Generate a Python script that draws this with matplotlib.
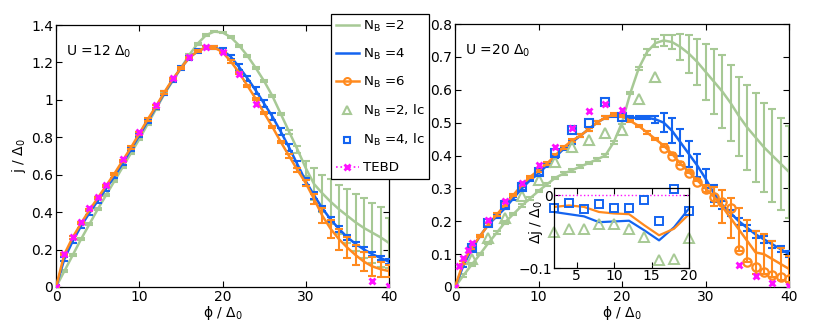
import numpy as np
import matplotlib
matplotlib.use("Agg")
import matplotlib.pyplot as plt
from matplotlib.lines import Line2D
from matplotlib.ticker import FuncFormatter

plt.rcParams['font.family'] = ['DejaVu Sans']
plt.rcParams['font.size'] = 10

# ---------------- data ----------------
phi = list(range(0, 41))

# U = 12 Delta_0
left_nb2 = [0, 0.085, 0.17, 0.255, 0.335, 0.415, 0.49, 0.565, 0.64, 0.715, 0.79, 0.87, 0.95, 1.03, 1.10,
            1.17, 1.24, 1.30, 1.345, 1.365, 1.36, 1.335, 1.29, 1.235, 1.17, 1.10, 1.02, 0.925, 0.83, 0.735,
            0.635, 0.55, 0.50, 0.455, 0.415, 0.38, 0.345, 0.315, 0.29, 0.265, 0.235]
left_nb2_err = [0.005] * 28 + [0.01, 0.02, 0.04, 0.085, 0.10, 0.12, 0.13, 0.145, 0.15, 0.16, 0.16, 0.16, 0.135]
left_nb4 = [0, 0.15, 0.245, 0.325, 0.395, 0.46, 0.525, 0.59, 0.66, 0.735, 0.81, 0.885, 0.96, 1.035, 1.105,
            1.17, 1.225, 1.26, 1.28, 1.28, 1.265, 1.23, 1.175, 1.115, 1.05, 0.98, 0.91, 0.83, 0.745, 0.655,
            0.565, 0.49, 0.42, 0.36, 0.31, 0.265, 0.23, 0.2, 0.175, 0.155, 0.135]
left_nb4_err = [0.01] * 20 + [0.01, 0.012, 0.015, 0.015, 0.018, 0.02, 0.02, 0.02, 0.02, 0.02,
                              0.018, 0.018, 0.015, 0.015, 0.015, 0.012, 0.012, 0.012, 0.012, 0.012, 0.012]
left_nb6 = [0, 0.175, 0.265, 0.34, 0.41, 0.475, 0.54, 0.605, 0.675, 0.745, 0.82, 0.895, 0.965, 1.04, 1.11,
            1.17, 1.225, 1.26, 1.28, 1.28, 1.255, 1.205, 1.145, 1.075, 1.005, 0.93, 0.855, 0.775, 0.70, 0.625,
            0.555, 0.47, 0.38, 0.31, 0.255, 0.21, 0.17, 0.135, 0.11, 0.095, 0.085]
left_nb6_err = [0.006] * 28 + [0.01, 0.012, 0.015, 0.025, 0.04, 0.05, 0.055, 0.055, 0.053, 0.05, 0.05, 0.04, 0.03]
left_tebd_x = [0, 1, 2, 3, 4, 5, 6, 8, 10, 12, 14, 16, 18, 20, 22, 24, 38, 40]
left_tebd = [0, 0.176, 0.269, 0.349, 0.42, 0.483, 0.545, 0.684, 0.828, 0.974, 1.115, 1.229, 1.284, 1.254,
             1.136, 0.978, 0.03, 0.007]

# U = 20 Delta_0
right_nb2 = [0, 0.035, 0.068, 0.10, 0.134, 0.165, 0.197, 0.222, 0.247, 0.27, 0.292, 0.312, 0.332, 0.345, 0.355,
             0.366, 0.377, 0.388, 0.40, 0.44, 0.50, 0.59, 0.665, 0.715, 0.742, 0.75, 0.745, 0.73, 0.71, 0.685,
             0.655, 0.625, 0.595, 0.56, 0.52, 0.485, 0.455, 0.425, 0.40, 0.375, 0.35]
right_nb2_err = [0.004] * 23 + [0.008, 0.012, 0.016, 0.022, 0.04, 0.058, 0.07, 0.085, 0.10, 0.11, 0.115,
                                0.12, 0.13, 0.135, 0.135, 0.14, 0.14, 0.14]
right_nb4 = [0, 0.065, 0.115, 0.155, 0.19, 0.215, 0.24, 0.27, 0.30, 0.325, 0.345, 0.37, 0.395, 0.42, 0.44,
             0.46, 0.48, 0.50, 0.515, 0.52, 0.52, 0.515, 0.515, 0.515, 0.51, 0.50, 0.475, 0.44, 0.405, 0.37,
             0.33, 0.285, 0.25, 0.225, 0.20, 0.18, 0.16, 0.145, 0.13, 0.115, 0.10]
right_nb4_err = [0.004] * 22 + [0.005, 0.005, 0.01, 0.03, 0.038, 0.04, 0.04, 0.035, 0.03, 0.025,
                                0.012, 0.01, 0.01, 0.01, 0.01, 0.01, 0.01, 0.01, 0.01]
right_nb6 = [0, 0.075, 0.12, 0.155, 0.19, 0.22, 0.25, 0.28, 0.31, 0.335, 0.355, 0.375, 0.40, 0.425, 0.445,
             0.46, 0.48, 0.50, 0.515, 0.525, 0.52, 0.505, 0.49, 0.47, 0.45, 0.43, 0.405, 0.375, 0.35, 0.325,
             0.30, 0.275, 0.245, 0.21, 0.175, 0.14, 0.105, 0.10, 0.085, 0.07, 0.055]
right_nb6_err = [0.004] * 30 + [0.01, 0.03, 0.05, 0.06, 0.065, 0.065, 0.065, 0.06, 0.055, 0.05, 0.04]
right_nb6_pts_x = list(range(25, 41))
right_nb6_pts = [0.424, 0.398, 0.371, 0.346, 0.320, 0.297, 0.275, 0.26, 0.239, 0.113, 0.077, 0.060,
                 0.047, 0.036, 0.029, 0.023]
right_lc_x = [2, 4, 6, 8, 10, 12, 14, 16, 18, 20, 22, 24]
right_nb2_lc = [0.085, 0.15, 0.21, 0.277, 0.327, 0.381, 0.427, 0.447, 0.469, 0.478, 0.572, 0.639]
right_nb4_lc = [0.118, 0.196, 0.248, 0.303, 0.351, 0.409, 0.478, 0.50, 0.564, 0.516, None, None]
right_tebd_x = [0, 0.5, 1, 1.5, 2, 4, 6, 8, 10, 12, 14, 16, 18, 20, 34, 36, 38, 40]
right_tebd = [0, 0.064, 0.087, 0.113, 0.133, 0.203, 0.262, 0.315, 0.37, 0.425, 0.483, 0.535, 0.557, 0.538,
              0.068, 0.034, 0.012, 0.003]

# inset: Delta j / Delta_0
inset_x = [2, 4, 6, 8, 10, 12, 14, 16, 18, 20]
inset_nb4 = [-0.023, -0.026, -0.029, -0.037, -0.036, -0.035, -0.048, -0.062, -0.044, -0.018]
inset_nb6 = [-0.016, -0.014, -0.016, -0.023, -0.025, -0.026, -0.041, -0.055, -0.046, -0.026]
inset_nb4_lc = [-0.018, -0.010, -0.019, -0.012, -0.018, -0.018, -0.007, -0.036, 0.008, -0.022]
inset_nb2_lc = [-0.050, -0.047, -0.046, -0.039, -0.040, -0.046, -0.057, -0.089, -0.087, -0.059]
inset_tebd = [0, 0]
inset_tebd_x = [2, 20]

GREEN = '#a7c995'
BLUE = '#1464f0'
ORANGE = '#ff8a1e'
MAGENTA = '#ff10ff'

fmt = FuncFormatter(lambda v, p: ('%g' % round(v, 6)).replace('-', '\u2212'))


def style(ax):
    ax.tick_params(direction='in', top=True, right=True, length=4, labelsize=10, pad=2)
    for s in ax.spines.values():
        s.set_linewidth(0.9)
    ax.xaxis.set_major_formatter(fmt)
    ax.yaxis.set_major_formatter(fmt)


def main_panel(ax, nb2, e2, nb4, e4, nb6, e6, tebd_x, tebd):
    ax.errorbar(phi, nb2, yerr=e2, color=GREEN, lw=1.8, capsize=3, elinewidth=1.5, capthick=1.5, zorder=2)
    ax.errorbar(phi, nb4, yerr=e4, color=BLUE, lw=1.8, capsize=3, elinewidth=1.5, capthick=1.5, zorder=3)
    ax.errorbar(phi, nb6, yerr=e6, color=ORANGE, lw=1.8, capsize=3, elinewidth=1.5, capthick=1.5, zorder=4)
    ax.plot(tebd_x, tebd, linestyle='none', marker='x', color=MAGENTA, ms=4.5, mew=2, zorder=6)
    ax.set_xlim(0, 40)
    ax.set_xticks([0, 10, 20, 30, 40])
    ax.set_xlabel('ϕ / Δ$_0$', labelpad=0)


fig = plt.figure(figsize=(8.3, 3.24), dpi=100)

axL = fig.add_axes([0.0675, 0.1142, 0.4012, 0.8086])
main_panel(axL, left_nb2, left_nb2_err, left_nb4, left_nb4_err, left_nb6, left_nb6_err,
           left_tebd_x, left_tebd)
axL.set_ylim(0, 1.4)
axL.set_yticks(np.arange(0, 1.41, 0.2))
axL.set_ylabel('j / Δ$_0$', labelpad=2)
axL.text(0.03, 0.93, 'U =12 Δ$_0$', transform=axL.transAxes, ha='left', va='top', fontsize=10)
style(axL)

axR = fig.add_axes([0.5482, 0.1142, 0.4024, 0.8117])
main_panel(axR, right_nb2, right_nb2_err, right_nb4, right_nb4_err, right_nb6, right_nb6_err,
           right_tebd_x, right_tebd)
axR.plot(right_nb6_pts_x, right_nb6_pts, linestyle='none', marker='o', ms=6, mfc='none',
         mec=ORANGE, mew=1.6, zorder=5)
axR.plot(right_lc_x, right_nb2_lc, linestyle='none', marker='^', ms=7, mfc='none', mec=GREEN, mew=1.5, zorder=5)
lc4 = [(x, y) for x, y in zip(right_lc_x, right_nb4_lc) if y is not None]
axR.plot([p[0] for p in lc4], [p[1] for p in lc4], linestyle='none', marker='s', ms=6, mfc='none',
         mec=BLUE, mew=1.5, zorder=5)
axR.set_ylim(0, 0.8)
axR.set_yticks(np.arange(0, 0.81, 0.1))
axR.text(0.03, 0.93, 'U =20 Δ$_0$', transform=axR.transAxes, ha='left', va='top', fontsize=10)
style(axR)

# inset
axI = fig.add_axes([0.6675, 0.1728, 0.1627, 0.247])
axI.plot(inset_tebd_x, inset_tebd, color=MAGENTA, linestyle=':', lw=1.0)
axI.plot(inset_x, inset_nb4, color=BLUE, lw=1.6)
axI.plot(inset_x, inset_nb6, color=ORANGE, lw=1.6)
axI.plot(inset_x, inset_nb4_lc, linestyle='none', marker='s', ms=5.5, mfc='none', mec=BLUE, mew=1.4,
         clip_on=False)
axI.plot(inset_x, inset_nb2_lc, linestyle='none', marker='^', ms=7, mfc='none', mec=GREEN, mew=1.4,
         clip_on=False)
axI.set_xlim(2, 20)
axI.set_ylim(-0.1, 0.01)
axI.set_xticks([5, 10, 15, 20])
axI.set_yticks([-0.1, 0])
axI.set_ylabel('Δj / Δ$_0$')
axI.yaxis.set_label_coords(-0.07, 0.57)
style(axI)
axI.tick_params(labelsize=10, pad=1)

# legend
handles = [
    Line2D([], [], color=GREEN, lw=1.8),
    Line2D([], [], color=BLUE, lw=1.8),
    Line2D([], [], color=ORANGE, lw=1.8, marker='o', ms=5, mfc='none', mew=1.5),
    Line2D([], [], color=GREEN, linestyle='none', marker='^', ms=6, mfc='none', mew=1.5),
    Line2D([], [], color=BLUE, linestyle='none', marker='s', ms=5, mfc='none', mew=1.5),
    Line2D([], [], color=MAGENTA, linestyle=':', lw=1.2, marker='x', ms=4, mew=2),
]
labels = ['N$_\\mathregular{B}$ =2', 'N$_\\mathregular{B}$ =4', 'N$_\\mathregular{B}$ =6',
          'N$_\\mathregular{B}$ =2, lc', 'N$_\\mathregular{B}$ =4, lc', 'TEBD']
leg = fig.legend(handles, labels, loc='upper left', bbox_to_anchor=(0.3988, 0.9568),
                 frameon=True, fancybox=False, edgecolor='black', framealpha=1,
                 borderpad=0.35, labelspacing=0.98, handlelength=1.75, handletextpad=0.3,
                 borderaxespad=0, fontsize=9.6)
leg.get_frame().set_linewidth(0.9)
leg.set_zorder(10)

fig.savefig('out.png', dpi=100)
